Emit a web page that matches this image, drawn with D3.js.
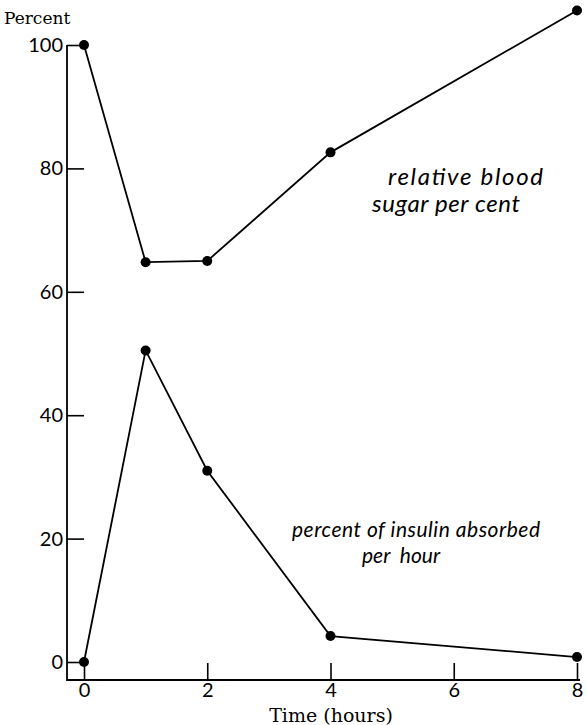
<!DOCTYPE html>
<html><head><meta charset="utf-8">
<script src="https://cdn.jsdelivr.net/npm/d3@7"></script>
<style>body{margin:0;background:#fff}svg{display:block}</style>
</head><body>
<script>
const hours = [0, 1, 2, 4, 8];
const bloodSugar = [100, 64.8, 65, 82.6, 105.6];
const insulinAbsorbed = [0, 50.5, 31, 4.2, 0.8];
const xTicks = [0, 2, 4, 6, 8];
const yTicks = [0, 20, 40, 60, 80, 100];

const W = 587, H = 725;
const svg = d3.select("body").append("svg").attr("width", W).attr("height", H);
const x = d3.scaleLinear().domain([0, 8]).range([84, 577]);
const y = d3.scaleLinear().domain([0, 100]).range([662, 45]);
const axisX = 67, axisY = 680;
const font = "Lato, 'DejaVu Sans', sans-serif";

svg.append("path").attr("d", `M${axisX},${y(100)}V${axisY}H580`)
  .attr("fill", "none").attr("stroke", "#000").attr("stroke-width", 1.8);

const ya = d3.axisLeft(y).tickValues(yTicks).tickSizeInner(-17).tickSizeOuter(0).tickPadding(4);
const gy = svg.append("g").attr("transform", `translate(${axisX},0)`).call(ya);
gy.select(".domain").remove();
gy.selectAll("line").attr("stroke", "#000").attr("stroke-width", 1.6);
gy.selectAll("text").attr("font-family", font).attr("font-size", 20).attr("font-weight", 400).attr("fill", "#000");

const xa = d3.axisBottom(x).tickValues(xTicks).tickSizeInner(-17).tickSizeOuter(0).tickPadding(3);
const gx = svg.append("g").attr("transform", `translate(0,${axisY})`).call(xa);
gx.select(".domain").remove();
gx.selectAll("line").attr("stroke", "#000").attr("stroke-width", 1.6);
gx.selectAll("text").attr("font-family", font).attr("font-size", 20).attr("font-weight", 400).attr("fill", "#000");

svg.append("text").attr("x", 4).attr("y", 24).text("Percent")
  .attr("font-family", "'DejaVu Serif', serif").attr("font-size", 17).attr("fill", "#000");
svg.append("text").attr("x", 331).attr("y", 722).attr("text-anchor", "middle").text("Time (hours)")
  .attr("font-family", "'DejaVu Serif', serif").attr("font-size", 19).attr("fill", "#000");

const line = d3.line().x(d => x(d[0])).y(d => y(d[1]));
[bloodSugar, insulinAbsorbed].forEach(vals => {
  const pts = hours.map((h, i) => [h, vals[i]]);
  svg.append("path").datum(pts).attr("d", line).attr("fill", "none")
    .attr("stroke", "#000").attr("stroke-width", 1.8);
  svg.selectAll(null).data(pts).enter().append("circle")
    .attr("cx", d => x(d[0])).attr("cy", d => y(d[1])).attr("r", 5).attr("fill", "#000");
});

const ann = (t, xx, yy, size, width) => {
  const el = svg.append("text").attr("x", xx).attr("y", yy).text(t)
    .attr("font-family", font).attr("font-style", "italic").attr("font-size", size)
    .style("white-space", "pre").attr("fill", "#000");
  if (width) el.attr("textLength", width).attr("lengthAdjust", "spacing");
  return el;
};
ann("relative blood", 388, 185, 24, 155);
ann("sugar per cent", 372, 212, 24, 148);
ann("percent of insulin absorbed", 292, 537, 21, 248);
ann("per  hour", 362, 563, 21);
</script>
</body></html>
